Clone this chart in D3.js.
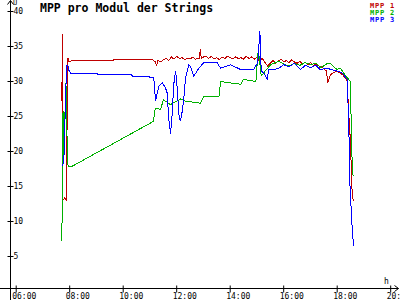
<!DOCTYPE html>
<html>
<head>
<meta charset="utf-8">
<script src="https://cdn.jsdelivr.net/npm/d3@7"></script>
<style>
  body { margin: 0; background: #fff; }
  svg { display: block; }
  text { font-family: "DejaVu Sans Mono", monospace; }
</style>
</head>
<body>
<svg id="chart" width="400" height="300"></svg>
<script>
// series names + colours
var seriesNames = ["MPP 1", "MPP 2", "MPP 3"];
var seriesColors = ["#c00000", "#00b000", "#0000ff"];

var xTicks = [6, 8, 10, 12, 14, 16, 18, 20];
var yTicks = [5, 10, 15, 20, 25, 30, 35, 40];

// [hour, volt]
var mpp1 = [[7.71,27.2],[7.72,36.8],[7.74,13.0],[7.82,13.4],[7.87,13.0],[7.93,33.4],[7.98,32.8],[8.1,33.0],
  [9.6,33.0],[9.65,33.1],[11.1,33.1],[11.2,32.8],[11.25,32.3],[11.3,33.0],[11.4,32.8],[11.5,33.1],[11.6,33.3],
  [11.7,33.0],[11.8,33.5],[11.9,33.2],[12.0,33.6],[12.1,33.3],[12.2,33.4],[12.3,33.1],[12.4,33.3],[12.5,33.2],
  [12.6,33.5],[12.7,33.2],[12.85,33.3],[12.88,34.6],[12.92,33.3],[13.0,33.5],[13.1,33.6],[13.2,33.3],[13.3,33.6],
  [13.4,33.2],[13.5,33.4],[13.6,33.1],[13.7,33.5],[13.8,33.3],[13.9,33.6],[14.0,33.4],[14.1,33.2],[14.2,33.5],
  [14.3,33.3],[14.4,33.4],[14.5,33.2],[14.6,33.6],[14.7,33.3],[14.8,33.5],[14.9,33.2],[15.0,33.4],[15.1,32.9],
  [15.2,33.3],[15.3,32.7],[15.4,32.2],[15.5,32.6],[15.6,33.0],[15.7,32.6],[15.8,32.9],[15.9,33.2],[16.0,32.8],
  [16.1,33.0],[16.2,32.7],[16.3,33.1],[16.4,32.8],[16.5,32.6],[16.6,32.9],[16.7,32.5],[16.8,32.8],[16.9,32.4],
  [17.0,32.7],[17.1,32.3],[17.2,32.5],[17.3,32.0],[17.4,32.2],[17.5,31.8],[17.6,31.5],[17.65,29.8],[17.7,30.5],
  [17.75,31.0],[17.9,31.3],[18.0,31.5],[18.1,31.2],[18.2,31.0],[18.3,30.5],[18.38,30.0],[18.42,25.8],
  [18.46,23.9],[18.5,20.8],[18.55,14.8],[18.6,12.9]];

var mpp2 = [[7.71,7.2],[7.72,16.5],[7.74,25.5],[7.76,19.5],[7.78,25.8],[7.80,20.0],[7.82,25.0],[7.86,29.8],
  [7.92,18.3],[7.95,17.8],[8.05,17.8],[11.13,24.3],[11.2,26.2],[11.4,26.0],[11.5,27.4],[11.77,26.7],[12.14,27.5],
  [12.33,27.2],[12.89,26.9],[13.01,27.9],[13.58,27.8],[13.64,30.0],[14.39,29.6],[14.5,30.3],[14.96,30.0],
  [15.05,34.6],[15.16,30.8],[15.31,31.5],[15.51,32.4],[15.82,32.9],[16.0,32.5],[16.2,32.2],[16.4,32.6],
  [16.6,32.3],[16.8,32.7],[17.0,32.4],[17.2,32.6],[17.4,32.0],[17.6,32.5],[17.75,32.6],[17.99,31.7],
  [18.12,31.9],[18.31,30.8],[18.5,30.0],[18.52,24.3],[18.57,16.8],[18.61,16.5]];

var mpp3 = [[7.72,17.9],[7.78,18.5],[7.82,24.0],[7.86,29.5],[7.89,32.3],[7.93,32.3],[7.97,31.6],[8.03,31.2],
  [9.0,31.2],[9.05,31.0],[10.3,31.0],[10.35,30.75],[10.95,30.75],[11.0,30.6],[11.14,30.6],[11.21,27.2],
  [11.33,29.3],[11.46,29.8],[11.58,29.1],[11.64,28.4],[11.70,24.8],[11.77,22.5],[11.83,25.3],[11.89,29.6],
  [11.96,31.5],[12.02,29.1],[12.08,25.3],[12.14,24.3],[12.21,25.8],[12.27,27.7],[12.33,30.5],[12.45,32.4],
  [12.52,32.1],[12.64,30.75],[12.83,31.9],[13.01,32.7],[13.51,32.7],[13.64,31.9],[14.02,32.4],[14.39,31.7],
  [14.88,31.7],[15.03,32.7],[15.11,37.2],[15.16,31.5],[15.26,31.2],[15.38,30.3],[15.44,31.7],[15.63,31.7],
  [15.82,31.9],[16.0,32.4],[16.2,32.1],[16.4,32.6],[16.63,31.7],[16.8,32.3],[17.0,32.0],[17.2,32.3],
  [17.37,31.7],[17.6,31.9],[17.99,31.5],[18.2,31.2],[18.37,30.3],[18.43,24.3],[18.48,14.8],[18.56,9.1],
  [18.61,6.5]];

var allSeries = [mpp1, mpp2, mpp3];

var svg = d3.select("#chart");
var axisY = 288.5, axisX = 10.5;

var x = d3.scaleLinear().domain([6, 20]).range([15.7, 390.2]);
var y = d3.scaleLinear().domain([0, 40]).range([291, 11]);

// axis lines with arrows
svg.append("path")
  .attr("d", "M0," + axisY + "H398.5M394.5," + (axisY - 3) + "L398.5," + axisY + "L394.5," + (axisY + 3))
  .attr("fill", "none").attr("stroke", "#000");
svg.append("path")
  .attr("d", "M" + axisX + ",300V0.5M" + (axisX - 3) + ",4.5L" + axisX + ",0.5L" + (axisX + 3) + ",4.5")
  .attr("fill", "none").attr("stroke", "#000");

var xAxis = svg.append("g")
  .attr("transform", "translate(0," + (axisY - 3) + ")")
  .call(d3.axisBottom(x).tickValues(xTicks).tickSize(7).tickPadding(1)
    .tickFormat(function(d){ return d3.format("02")(d) + ":00"; }));
xAxis.select(".domain").remove();
xAxis.selectAll("text")
  .attr("text-anchor", "start").attr("dx", -4)
  .attr("font-size", 8).attr("font-family", "DejaVu Sans Mono");

var yAxis = svg.append("g")
  .attr("transform", "translate(" + (axisX - 3) + ",0)")
  .call(d3.axisRight(y).tickValues(yTicks).tickSize(6).tickPadding(0));
yAxis.select(".domain").remove();
yAxis.selectAll("text")
  .attr("font-size", 8).attr("font-family", "DejaVu Sans Mono");

svg.append("text").attr("x", 13).attr("y", 5).attr("font-size", 7).text("U");
svg.append("text").attr("x", 384).attr("y", 284).attr("font-size", 8).text("h");

svg.append("text")
  .attr("x", 40).attr("y", 12)
  .attr("font-size", 11.5).attr("font-weight", "bold")
  .text("MPP pro Modul der Strings");

var line = d3.line()
  .x(function(d){ return x(d[0]); })
  .y(function(d){ return y(d[1]); });

svg.append("g")
  .attr("transform", "translate(0.5,0.5)")
  .selectAll(".series")
  .data(allSeries)
  .enter()
  .append("path")
  .attr("class", "series")
  .attr("d", line)
  .attr("fill", "none")
  .attr("stroke", function(d, i){ return seriesColors[i]; })
  .attr("stroke-width", 1)
  .attr("shape-rendering", "crispEdges");

svg.selectAll(".legend")
  .data(seriesNames)
  .enter()
  .append("text")
  .attr("class", "legend")
  .attr("x", 370)
  .attr("y", function(d, i){ return 7.5 + i * 7; })
  .attr("font-size", 7)
  .attr("font-weight", "bold")
  .attr("letter-spacing", 0.8)
  .attr("fill", function(d, i){ return seriesColors[i]; })
  .text(function(d){ return d; });
</script>
</body>
</html>
